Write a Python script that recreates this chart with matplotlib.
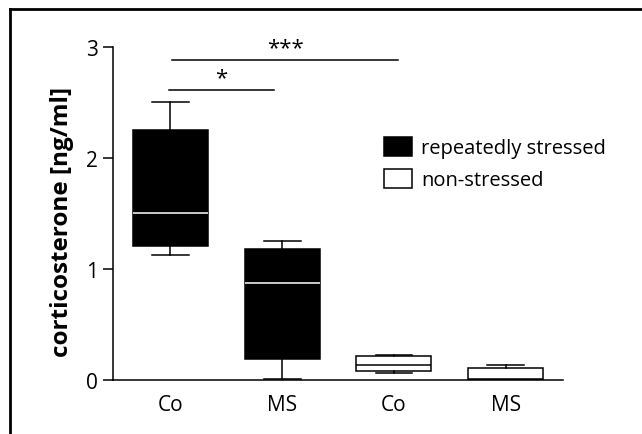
import numpy as np
import matplotlib.pyplot as plt
from matplotlib.patches import Patch
from matplotlib.lines import Line2D

plt.rcParams['font.family'] = ['Open Sans', 'DejaVu Sans']

# Box data: whisker low, Q1, median, Q3, whisker high
groups = ['Co', 'MS', 'Co', 'MS']
whislo = [1.12, 0.01, 0.063, 0.0]
q1 = [1.21, 0.19, 0.076, 0.0]
med = [1.50, 0.87, 0.133, 0.005]
q3 = [2.25, 1.18, 0.21, 0.106]
whishi = [2.50, 1.25, 0.226, 0.135]
stressed = [True, True, False, False]

# significance brackets: (x from, x to, y, label)
sig_x0 = [0.99, 1.02]
sig_x1 = [1.93, 3.04]
sig_y = [2.61, 2.885]
sig_lab = ['*', '***']

fig = plt.figure(figsize=(6.42, 4.35), dpi=100)
ax = fig.add_axes([113/642, 1-380.7/435, (563-113)/642, (380.7-48)/435])

pos = np.arange(1, len(groups) + 1)
for i in range(len(groups)):
    st = [dict(whislo=whislo[i], q1=q1[i], med=med[i], q3=q3[i], whishi=whishi[i], fliers=[])]
    fc = 'black' if stressed[i] else 'white'
    mc = 'white' if stressed[i] else 'black'
    ax.bxp(st, positions=[pos[i]], widths=0.67, patch_artist=True, showfliers=False,
           boxprops=dict(facecolor=fc, edgecolor='black', linewidth=1.1),
           medianprops=dict(color=mc, linewidth=1.1),
           whiskerprops=dict(color='black', linewidth=1.1),
           capprops=dict(color='black', linewidth=1.1),
           capwidths=0.33, manage_ticks=False)

for x0, x1, y, lab in zip(sig_x0, sig_x1, sig_y, sig_lab):
    ax.plot([x0, x1], [y, y], color='black', lw=1.1, clip_on=False)
    ax.text((x0 + x1) / 2, y + 0.015, lab, ha='center', va='bottom', fontsize=16, clip_on=False)

ax.set_xlim(0.49, 4.51)
ax.set_ylim(0, 3)
ax.set_yticks([0, 1, 2, 3])
ax.set_xticks(pos)
ax.set_xticklabels(groups, fontsize=15)
ax.tick_params(axis='y', labelsize=15, length=7, width=1.1, direction='out', pad=4)
ax.tick_params(axis='x', length=0, pad=10)
for s in ['top', 'right']:
    ax.spines[s].set_visible(False)
ax.spines['left'].set_linewidth(1.1)
ax.spines['bottom'].set_linewidth(1.1)
ax.set_ylabel('corticosterone [ng/ml]', fontsize=17.5, fontweight='bold')
ax.yaxis.set_label_coords(-0.087, 0.477)

handles = [Patch(facecolor='black', edgecolor='black', lw=1.1),
           Patch(facecolor='white', edgecolor='black', lw=1.1)]
ax.legend(handles, ['repeatedly stressed', 'non-stressed'], frameon=False, fontsize=14.5,
          handlelength=1.4, handleheight=1.05, handletextpad=0.45, labelspacing=0.55,
          borderpad=0, borderaxespad=0,
          loc='upper left', bbox_to_anchor=(0.602, 0.73))

# outer frame (top and left only)
fig.add_artist(Line2D([9.7/642, 1], [1-9.7/435, 1-9.7/435], color='black', lw=2))
fig.add_artist(Line2D([9.7/642, 9.7/642], [0, 1-9.7/435], color='black', lw=2))

fig.savefig('out.png', dpi=100)
